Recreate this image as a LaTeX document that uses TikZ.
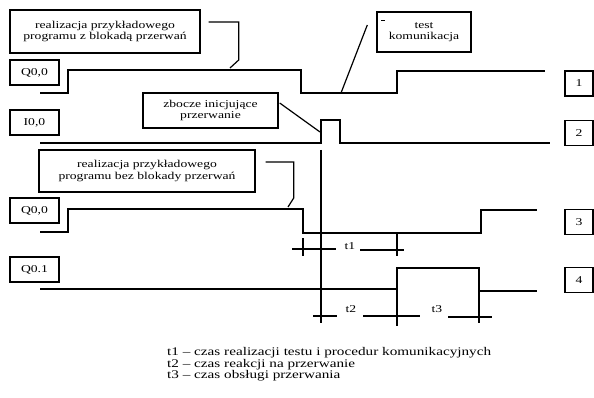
\documentclass[tikz,border=0pt]{standalone}
\usepackage{fontspec}
\setmainfont[FakeStretch=1.3]{Liberation Serif}
\usepackage{tikz}
\usetikzlibrary{calc}

\begin{document}
\begin{tikzpicture}[x=1pt,y=-1pt,
    ramka/.style={draw=black, line width=1.4pt, inner sep=0pt, align=center,
        font=\fontsize{10.5}{11.5}\selectfont},
    adres/.style={ramka, minimum width=49pt, minimum height=25pt},
    numer/.style={ramka, minimum width=28pt, minimum height=25pt},
    gruby/.style={line width=2.6pt},
    cienki/.style={line width=1.3pt},
    linia/.style={line width=1.2pt},
    opis/.style={inner sep=0pt, font=\fontsize{10.5}{11.5}\selectfont},
    legenda/.style={opis, anchor=west, font=\fontsize{11.7}{12}\selectfont}]
        \useasboundingbox (0,0) rectangle (594,398);
        %RAMKI Z OPISAMI
        \node[ramka, minimum width=190pt, minimum height=43pt] (blokada) at (105,31.5)
            {realizacja przykładowego\\programu z blokadą przerwań};
        \node[ramka, minimum width=94pt, minimum height=40pt] (test) at (424,32)
            {test\\komunikacja};
        \node[ramka, minimum width=135pt, minimum height=35pt] (zbocze) at (210.5,110.5)
            {zbocze inicjujące\\przerwanie};
        \node[ramka, minimum width=216pt, minimum height=42pt] (bezblokady) at (147,171)
            {realizacja przykładowego\\programu bez blokady przerwań};
        \draw[line width=0.6pt] (381,20) -- (385,20);
        %ADRESY
        \node[adres] (q00a) at (34.5,72.5) {Q0,0};
        \node[adres] (i00) at (34.5,122.5) {I0,0};
        \node[adres] (q00b) at (34.5,210.5) {Q0,0};
        \node[adres] (q01) at (34.5,269.5) {Q0.1};
        %NUMERY
        \node[numer] (n1) at (579,83.5) {1};
        \node[numer] (n2) at (579,133) {2};
        \node[numer] (n3) at (579,222) {3};
        \node[numer] (n4) at (579,280) {4};
        %PRZEBIEGI
        \draw[gruby] (40,93) -- (68,93) -- (68,70) -- (301,70) -- (301,93) -- (397,93) -- (397,71) -- (545,71);
        \draw[gruby] (40,143) -- (321,143) -- (321,120) -- (340,120) -- (340,143) -- (550,143);
        \draw[cienki] (40,232) -- (68,232) -- (68,209) -- (303,209) -- (303,233) -- (481,233) -- (481,210) -- (537,210);
        \draw[cienki] (40,289) -- (397,289) -- (397,268) -- (479,268) -- (479,291) -- (537,291);
        %ODNOSNIKI
        \coordinate (gora) at (230,68);
        \coordinate (dol) at (341,93);
        \coordinate (impuls) at (320,132);
        \coordinate (opadanie) at (288,207);
        \draw[linia] ($(blokada.east)+(8,-9.5)$) -- ++(30,0) -- ++(0,38) -- (gora);
        \draw[linia] ($(test.west)+(-9,-7)$) -- (dol);
        \draw[linia] ($(zbocze.east)+(1,-7.5)$) -- (impuls);
        \draw[linia] ($(bezblokady.east)+(10,-9)$) -- ++(28,0) -- ++(0,36) -- (opadanie);
        %CZASY
        \draw[linia] (321,150) -- (321,323);
        \node[opis] (t1) at (350,246) {t1};
        \node[opis] (t2) at (351,309) {t2};
        \node[opis] (t3) at (437,309) {t3};
        \draw[linia] (303,238) -- (303,256);
        \draw[linia] (292,249) -- (336,249);
        \draw[linia] (360,250) -- (404,250);
        \draw[linia] (397,233) -- (397,256);
        \draw[linia] (313,316) -- (337,316);
        \draw[linia] (363,316) -- (420,316);
        \draw[linia] (397,289) -- (397,326);
        \draw[linia] (448,317) -- (492,317);
        \draw[linia] (479,291) -- (479,323);
        %LEGENDA
        \node[legenda] (l1) at (167,353) {t1 – czas realizacji testu i procedur komunikacyjnych};
        \node[legenda] (l2) at (167,364.5) {t2 – czas reakcji na przerwanie};
        \node[legenda] (l3) at (167,376) {t3 – czas obsługi przerwania};
    \end{tikzpicture}
\end{document}
